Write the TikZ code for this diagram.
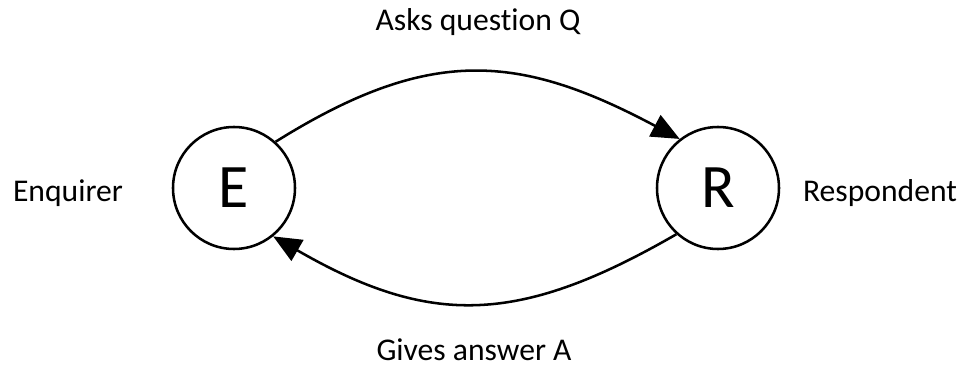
\documentclass[tikz,border=0pt]{standalone}
\usepackage{fontspec}
\setmainfont{Carlito}[Ligatures={CommonOff,ContextualOff}]
\usetikzlibrary{arrows.meta}
\begin{document}
\begin{tikzpicture}
        [agent/.style={circle,draw=black,line width=1.8pt,minimum size=3.05cm,inner sep=0pt,font=\fontsize{44}{48}\selectfont},
        label/.style={anchor=base,inner sep=0pt,font=\fontsize{22.5}{27}\selectfont},
        arrow/.style={-{Triangle[length=20pt,width=17pt]},line width=1.8pt},
        ]
        \useasboundingbox (0,0) rectangle (24.175,9.175);
        \node[agent] (E) at (5.85,4.475){E};
        \node[agent] (R) at (17.95,4.475){R};
        \node[label] (enq) at (1.7,4.125){Enquirer};
        \node[label] (resp) at (22.0,4.125){Respondent};
        \node[label] (ask) at (11.95,8.4){Asks question Q};
        \node[label] (give) at (11.85,0.15){Gives answer A};
        \draw[arrow] (E.48) to[out=32,in=152,looseness=1.15] (R.128);
        \draw[arrow] (R.-132) to[out=-150,in=-30,looseness=1.15] (E.-51);
\end{tikzpicture}
\end{document}
